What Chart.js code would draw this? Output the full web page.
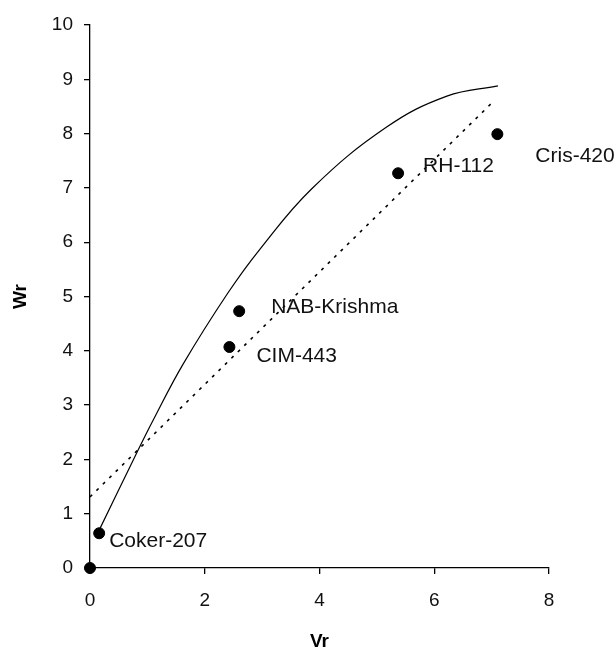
<!DOCTYPE html>
<html>
<head>
<meta charset="utf-8">
<script src="https://cdn.jsdelivr.net/npm/chart.js@4"></script>
<style>
html,body{margin:0;padding:0;background:#fff;}
#wrap{width:616px;height:651px;position:relative;}
</style>
</head>
<body>
<div id="wrap"><canvas id="c" width="616" height="651"></canvas></div>
<script>
// ---- data ----
const genotypes = ['', 'Coker-207', 'CIM-443', 'NAB-Krishma', 'RH-112', 'Cris-420'];
const vr = [0, 0.16, 2.43, 2.60, 5.37, 7.10];
const wr = [0, 0.64, 4.07, 4.73, 7.27, 7.99];

// limiting parabola (solid curve)
const curveVr = [0.12, 0.82, 1.10, 1.62, 2.40, 2.96, 3.87, 5.17, 6.22, 7.11];
const curveWr = [0.61, 2.13, 2.72, 3.75, 5.06, 5.87, 6.99, 8.12, 8.69, 8.88];

// regression line (dotted)
const regVr = [0, 7.0];
const regWr = [1.31, 8.56];

const xTicks = [0, 2, 4, 6, 8];
const yTicks = [0, 1, 2, 3, 4, 5, 6, 7, 8, 9, 10];

// label placement (style only)
const labelOffsets = [[0,0],[10,14],[27,15],[32,2],[25,-1],[38,28]];

const FONT = '"Liberation Sans", Arial, sans-serif';

const toXY = (xs, ys) => xs.map((x, i) => ({x: x, y: ys[i]}));

const labelPlugin = {
  id: 'pointLabels',
  afterDatasetsDraw(chart) {
    const ctx = chart.ctx;
    const xs = chart.scales.x, ys = chart.scales.y;
    ctx.save();
    ctx.font = '21px ' + FONT;
    ctx.fillStyle = '#111';
    ctx.textAlign = 'left';
    ctx.textBaseline = 'alphabetic';
    genotypes.forEach((name, i) => {
      if (!name) return;
      const px = xs.getPixelForValue(vr[i]);
      const py = ys.getPixelForValue(wr[i]);
      ctx.fillText(name, px + labelOffsets[i][0], py + labelOffsets[i][1]);
    });
    ctx.restore();
  }
};

new Chart(document.getElementById('c'), {
  type: 'scatter',
  data: {
    datasets: [
      {
        type: 'line',
        data: toXY(curveVr, curveWr),
        borderColor: '#000',
        borderWidth: 1.2,
        pointRadius: 0,
        fill: false,
        tension: 0.4,
        order: 2
      },
      {
        type: 'line',
        data: toXY(regVr, regWr),
        borderColor: '#000',
        borderWidth: 1.6,
        borderDash: [3, 6],
        pointRadius: 0,
        fill: false,
        order: 3
      },
      {
        data: toXY(vr, wr),
        backgroundColor: '#000',
        borderColor: '#000',
        borderWidth: 1,
        pointRadius: 5.5,
        pointHoverRadius: 5.5,
        clip: false,
        order: 1
      }
    ]
  },
  options: {
    responsive: false,
    animation: false,
    events: [],
    layout: {padding: {left: 0, top: 25, right: 67, bottom: 0}},
    plugins: {
      legend: {display: false},
      tooltip: {enabled: false}
    },
    scales: {
      x: {
        type: 'linear',
        min: 0, max: 8,
        afterBuildTicks(s) { s.ticks = xTicks.map(v => ({value: v})); },
        afterFit(s) { s.height = 83; },
        border: {display: true, color: '#000', width: 1.3},
        grid: {drawOnChartArea: false, drawTicks: true, tickLength: 6, color: '#000', lineWidth: 1.3},
        ticks: {color: '#111', padding: 15, font: {family: FONT, size: 19}},
        title: {display: true, text: 'Vr', color: '#000',
                font: {family: FONT, size: 19, weight: 'bold', lineHeight: 1},
                padding: {top: 0, bottom: 0}}
      },
      y: {
        type: 'linear',
        min: 0, max: 10,
        afterBuildTicks(s) { s.ticks = yTicks.map(v => ({value: v})); },
        afterFit(s) { s.width = 90; },
        border: {display: true, color: '#000', width: 1.3},
        grid: {drawOnChartArea: false, drawTicks: true, tickLength: 6, color: '#000', lineWidth: 1.3},
        ticks: {color: '#111', padding: 11, font: {family: FONT, size: 19}},
        title: {display: true, text: 'Wr', color: '#000',
                font: {family: FONT, size: 19, weight: 'bold', lineHeight: 1},
                padding: {top: 11, bottom: 0}}
      }
    }
  },
  plugins: [labelPlugin]
});
</script>
</body>
</html>
